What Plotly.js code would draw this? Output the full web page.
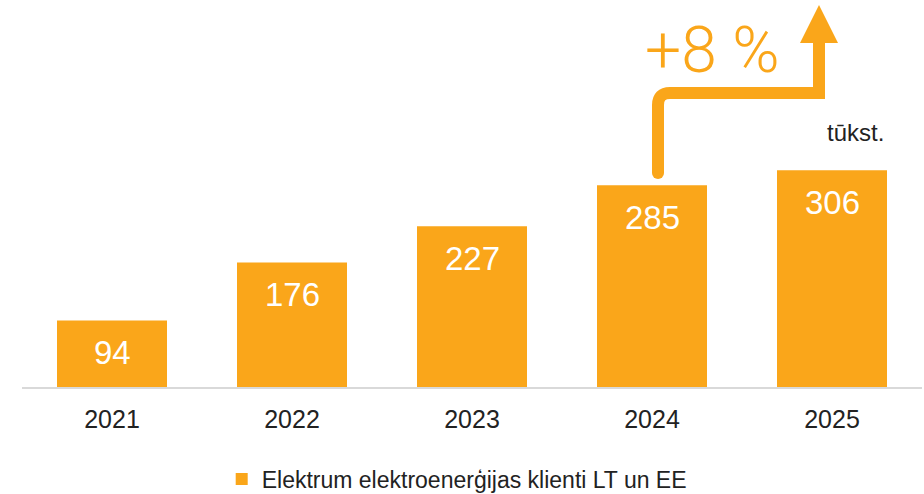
<!DOCTYPE html>
<html>
<head>
<meta charset="utf-8">
<script src="https://cdn.plot.ly/plotly-3.0.1.min.js"></script>
<style>html,body{margin:0;padding:0;background:#fff;}#chart{width:924px;height:494px;}</style>
</head>
<body>
<div id="chart"></div>
<script>
const years = ['2021', '2022', '2023', '2024', '2025'];
const clients = [94, 176, 227, 285, 306];
const seriesName = 'Elektrum elektroenerģijas klienti LT un EE';
const growthLabel = '+8 %';
const unitLabel = 'tūkst.';

const orange = '#FAA61A';
const W = 924, H = 494, L = 22, R = 2, T = 0, B = 107;
const pw = W - L - R, ph = H - T - B;
const px = v => (v - L) / pw;
const py = v => (H - B - v) / ph;

const arrowPath = 'M ' + px(658) + ',' + py(173) +
  ' L ' + px(658) + ',' + py(105) +
  ' Q ' + px(658) + ',' + py(93) + ' ' + px(670) + ',' + py(93) +
  ' L ' + px(819) + ',' + py(93) +
  ' L ' + px(819) + ',' + py(42);
const headPath = 'M ' + px(800) + ',' + py(43) + ' L ' + px(838) + ',' + py(43) +
  ' L ' + px(819) + ',' + py(5) + ' Z';

const trace = {
  type: 'bar',
  x: years,
  y: clients,
  name: seriesName,
  marker: {color: orange},
  hoverinfo: 'none',
  showlegend: true
};

const labelAnnotations = years.map((yr, i) => ({
  x: i, y: clients[i], xref: 'x', yref: 'y',
  text: String(clients[i]), showarrow: false,
  yanchor: 'middle', yshift: -32,
  font: {family: 'Liberation Sans, Arial, sans-serif', size: 33, color: '#ffffff'}
}));

const layout = {
  width: W, height: H,
  margin: {l: L, r: R, t: T, b: B, pad: 0, autoexpand: false},
  paper_bgcolor: '#ffffff', plot_bgcolor: '#ffffff',
  bargap: 70 / 180,
  xaxis: {
    type: 'category',
    categoryorder: 'array', categoryarray: years,
    range: [-0.5, 4.5], autorange: false,
    showline: true, linecolor: '#d9d9d9', linewidth: 2,
    showgrid: false, zeroline: false, ticks: '',
    tickfont: {family: 'Liberation Sans, Arial, sans-serif', size: 25, color: '#222222'},
    ticklabelstandoff: 9,
    automargin: false,
    fixedrange: true
  },
  yaxis: {
    range: [0, 546.6], autorange: false, visible: false, showgrid: false, zeroline: false, fixedrange: true
  },
  showlegend: true,
  legend: {
    orientation: 'h', x: 0.483, xanchor: 'center', y: py(479), yanchor: 'middle',
    font: {family: 'Liberation Sans, Arial, sans-serif', size: 23, color: '#222222'},
    itemwidth: 30
  },
  shapes: [
    {type: 'path', xref: 'paper', yref: 'paper', path: arrowPath,
     line: {color: orange, width: 12}, fillcolor: 'rgba(0,0,0,0)'},
    {type: 'path', xref: 'paper', yref: 'paper', path: headPath,
     line: {color: orange, width: 0}, fillcolor: orange},
    {type: 'circle', xref: 'paper', yref: 'paper',
     x0: px(652), x1: px(664), y0: py(179), y1: py(167),
     line: {width: 0}, fillcolor: orange}
  ],
  annotations: labelAnnotations.concat([
    {x: px(712), y: py(50), xref: 'paper', yref: 'paper', text: growthLabel,
     showarrow: false, xanchor: 'center', yanchor: 'middle',
     font: {family: 'Roboto, sans-serif', size: 64, color: orange, weight: 300}},
    {x: px(855), y: py(132), xref: 'paper', yref: 'paper', text: unitLabel,
     showarrow: false, xanchor: 'center', yanchor: 'middle',
     font: {family: 'Liberation Sans, Arial, sans-serif', size: 24, color: '#222222'}}
  ])
};

Plotly.newPlot('chart', [trace], layout, {displayModeBar: false, staticPlot: true});
</script>
</body>
</html>
